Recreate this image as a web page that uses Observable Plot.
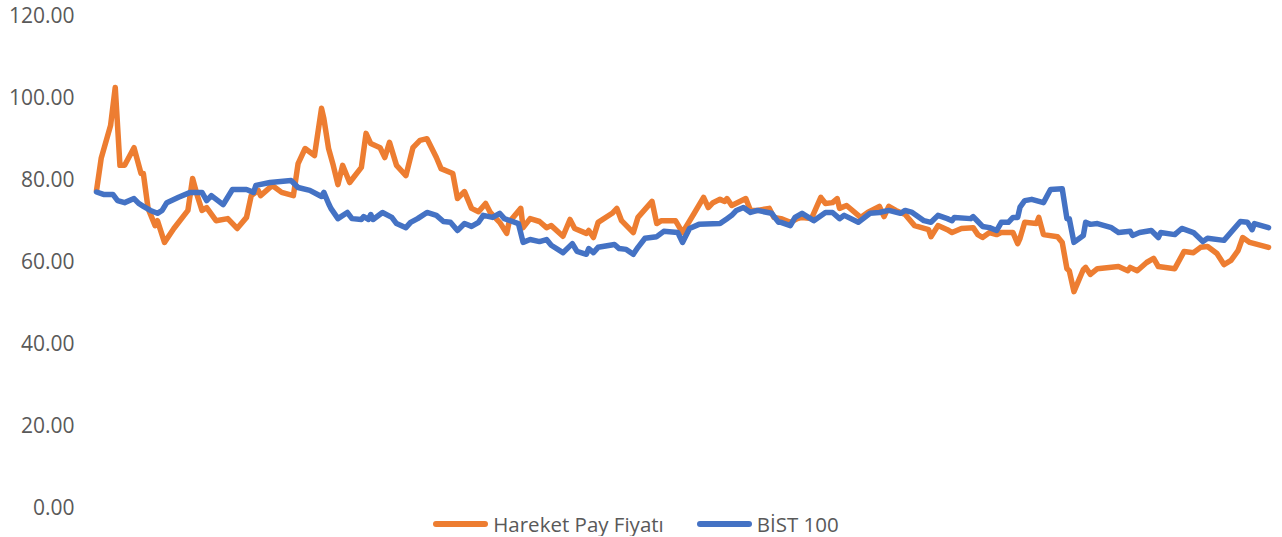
<!DOCTYPE html>
<html>
<head>
<meta charset="utf-8">
<script src="https://cdn.jsdelivr.net/npm/d3@7"></script>
<script src="https://cdn.jsdelivr.net/npm/@observablehq/plot@0.6"></script>
<style>
  html, body { margin: 0; padding: 0; background: #fff; }
  #chart { width: 1282px; height: 512px; }
  #chart svg { overflow: visible; }
  #legend { width: 1272px; padding-right: 10px; height: 24px; display: flex; justify-content: center; align-items: center;
            font-family: "Open Sans", sans-serif; font-size: 20.5px; color: #595959; }
  .item { display: flex; align-items: center; }
  .sw { width: 55px; height: 6px; border-radius: 3px; margin-right: 5px; }
  .gap { width: 33px; }
</style>
</head>
<body>
<div id="chart"></div>
<div id="legend"></div>
<script>
const seriesNames = ["Hareket Pay Fiyatı", "BİST 100"];
const seriesColors = ["#ED7D31", "#4472C4"];
const yTicks = [0, 20, 40, 60, 80, 100, 120];

// trading-day index (0..500) and value
const hareketDay = [0,2,6,8,10,12,16,19,20,22,25,26,29,33,39,41,43,45,47,51,56,60,64,66,69,70,75,79,84,86,89,93,96,97,99,101,103,105,108,113,115,117,121,123,125,128,132,135,138,141,145,147,152,154,157,160,163,166,168,172,175,176,181,182,185,189,192,194,199,202,204,209,210,212,214,220,222,224,229,231,237,239,241,247,250,255,259,261,263,266,268,269,271,277,279,282,287,289,292,296,299,301,305,309,311,314,316,317,320,326,329,334,336,338,341,345,349,355,356,359,363,365,369,374,376,378,381,384,386,391,393,394,396,401,402,404,410,412,414,415,417,421,422,424,427,436,440,441,444,448,451,453,460,464,468,471,474,478,481,484,487,489,492,500];
const hareketValue = [77.5,85.4,93.4,102.7,83.7,83.7,88.0,81.7,81.7,73.2,69.0,70.2,64.9,68.3,72.7,80.5,76.3,72.7,73.4,70.2,70.7,68.3,71.0,76.3,77.6,76.3,78.8,77.1,76.3,84.1,87.8,86.1,97.6,95.1,87.8,83.7,79.0,83.7,79.5,83.2,91.5,89.0,88.0,85.6,89.3,83.7,81.2,88.0,89.8,90.2,85.6,82.9,81.7,75.6,77.3,73.2,72.4,74.4,72.2,69.8,67.1,69.8,73.2,68.5,70.7,70.0,68.5,69.0,66.4,70.5,68.3,67.1,67.8,66.1,69.8,72.0,73.2,70.2,67.3,71.0,74.9,69.5,70.2,70.2,67.3,72.0,75.9,73.4,74.6,75.4,74.9,75.6,73.9,75.6,72.7,72.7,73.2,71.0,70.7,69.8,70.7,71.0,70.7,75.9,74.4,74.6,75.6,73.2,73.9,71.0,72.2,73.7,71.2,73.7,72.7,71.7,69.0,68.0,66.3,69.0,68.0,67.3,68.3,68.5,66.8,66.1,67.3,66.8,67.3,67.3,64.6,65.9,69.8,69.5,71.0,66.8,66.3,64.9,58.5,58.0,52.9,58.3,58.8,57.1,58.5,59.0,58.0,58.8,58.0,60.0,61.0,59.0,58.5,62.7,62.4,63.7,63.9,62.2,59.5,60.5,62.9,66.1,64.9,63.7];

const bistDay = [0,3,7,9,12,16,18,20,23,26,28,30,35,40,45,47,49,54,58,64,67,68,74,83,86,91,96,97,99,100,103,107,109,113,114,116,117,118,122,126,128,132,134,137,141,145,148,151,154,157,160,163,165,169,172,174,180,182,185,189,192,194,199,203,205,209,210,212,214,221,223,226,229,231,234,239,242,248,250,253,257,266,269,271,273,276,279,282,288,291,292,296,298,301,306,311,314,317,319,325,330,334,338,343,345,348,353,356,359,363,365,366,373,374,376,378,381,384,386,389,391,393,394,396,399,404,407,412,414,415,417,421,422,424,427,433,436,441,442,445,450,453,454,460,463,468,472,474,481,488,491,493,494,500];
const bistValue = [77.2,76.6,76.6,75.1,74.6,75.6,74.4,73.7,72.7,72.0,72.7,74.6,75.9,77.1,77.1,75.1,76.3,74.1,77.8,77.8,77.1,78.8,79.5,80.0,78.3,77.6,76.1,77.1,74.4,73.2,70.7,72.2,70.7,70.5,71.2,70.5,71.7,70.5,72.2,71.0,69.5,68.5,69.8,70.7,72.2,71.5,70.0,69.8,67.8,69.5,68.8,69.8,71.5,71.0,72.0,70.7,69.5,64.9,65.6,65.1,65.6,64.2,62.4,64.6,62.7,62.0,63.4,62.4,63.7,64.4,63.4,63.2,62.0,63.7,65.9,66.3,67.6,67.3,64.9,68.3,69.3,69.5,70.7,71.5,72.7,73.4,72.2,72.7,72.0,69.8,69.8,69.0,71.0,72.0,70.2,72.2,72.2,70.7,71.5,69.8,72.0,72.2,72.7,72.0,72.7,72.2,70.2,69.8,71.5,70.7,70.2,71.0,70.7,71.2,70.0,68.8,68.5,67.8,69.8,69.8,71.0,71.0,73.5,75.1,75.4,74.6,77.8,78.0,70.7,70.7,64.9,66.6,69.8,69.3,69.5,68.5,67.3,67.6,66.6,67.3,67.8,66.1,67.3,66.8,68.3,67.3,65.1,65.9,65.4,70.0,69.8,68.0,69.5,68.5];

const hareket = hareketDay.map((d, i) => ({day: d, value: hareketValue[i]}));
const bist = bistDay.map((d, i) => ({day: d, value: bistValue[i]}));

const chart = Plot.plot({
  width: 1282,
  height: 512,
  marginLeft: 96,
  marginRight: 14,
  marginTop: 16,
  marginBottom: 4,
  style: {fontFamily: "'Open Sans', sans-serif", fontSize: "21px", color: "#595959", background: "#fff", overflow: "visible"},
  x: {domain: [0, 500], axis: null},
  y: {domain: [0, 120], ticks: yTicks, tickFormat: d3.format(".2f"), tickSize: 0, tickPadding: 22, label: null},
  marks: [
    Plot.line(hareket, {x: "day", y: "value", stroke: seriesColors[0], strokeWidth: 5.5, strokeLinejoin: "round", strokeLinecap: "round"}),
    Plot.line(bist, {x: "day", y: "value", stroke: seriesColors[1], strokeWidth: 5.5, strokeLinejoin: "round", strokeLinecap: "round"})
  ]
});
document.getElementById("chart").appendChild(chart);

const legend = document.getElementById("legend");
seriesNames.forEach((name, i) => {
  if (i > 0) { const g = document.createElement("div"); g.className = "gap"; legend.appendChild(g); }
  const item = document.createElement("div");
  item.className = "item";
  const sw = document.createElement("div");
  sw.className = "sw";
  sw.style.background = seriesColors[i];
  const t = document.createElement("span");
  t.textContent = name;
  item.appendChild(sw);
  item.appendChild(t);
  legend.appendChild(item);
});
</script>
</body>
</html>
